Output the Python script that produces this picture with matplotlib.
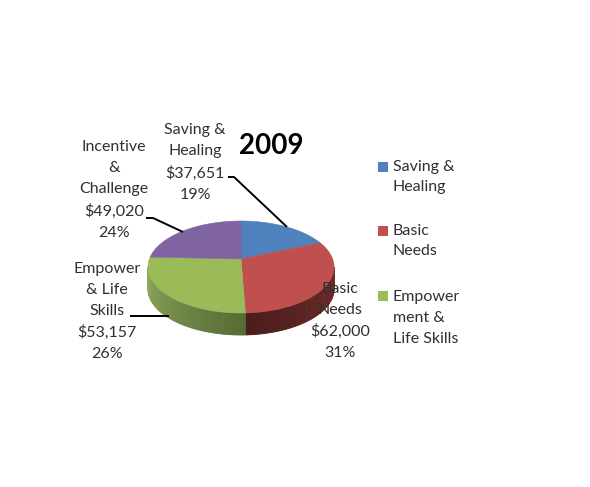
import numpy as np
import matplotlib
matplotlib.use("Agg")
import matplotlib.pyplot as plt
from matplotlib.colors import to_rgb

title = "2009"
categories = ["Saving &\nHealing", "Basic\nNeeds", "Empower\n& Life\nSkills", "Incentive\n&\nChallenge"]
legend_labels = ["Saving &\nHealing", "Basic\nNeeds", "Empower\nment &\nLife Skills"]
values = [37651, 62000, 53157, 49020]
percents = ["19%", "31%", "26%", "24%"]
colors = ["#4F81BD", "#C0504D", "#9BBB59", "#8064A2"]
side_from = {1: "#702C2A", 2: "#8FAA5E"}
side_to = {1: "#4A1D1B", 2: "#566B35"}

plt.rcParams["font.family"] = ["Lato", "DejaVu Sans"]
fig = plt.figure(figsize=(5.9, 4.87), dpi=100)
ax = fig.add_axes([0, 0, 1, 1])
ax.set_xlim(0, 590)
ax.set_ylim(487, 0)
ax.axis("off")

# perspective projection of a tilted circle
CX, CY, K, A, C, DEPTH = 241, 259, 91.6, 44.6, 0.174, 22


def project(theta):
    u, v = np.sin(theta), np.cos(theta)
    d = 1 + C * v
    return CX + K * u / d, CY - A * v / d


edges = np.concatenate([[0], np.cumsum(values)]) / sum(values) * 2 * np.pi
vis_lo, vis_hi = np.arccos(-C), 2 * np.pi - np.arccos(-C)

# side walls, shaded in strips
for i in side_from:
    lo, hi = max(edges[i], vis_lo), min(edges[i + 1], vis_hi)
    t = np.linspace(lo, hi, 60)
    c0, c1 = np.array(to_rgb(side_from[i])), np.array(to_rgb(side_to[i]))
    for j in range(len(t) - 1):
        x, y = project(t[j:j + 2])
        f = j / (len(t) - 2)
        c = c0 + (c1 - c0) * f
        if i == 2:
            c = c1 + (c0 - c1) * f
        ax.fill([x[0], x[1], x[1], x[0]], [y[0], y[1], y[1] + DEPTH, y[0] + DEPTH],
                color=c, lw=0.6, zorder=2)

# top face
for i, col in enumerate(colors):
    t = np.linspace(edges[i], edges[i + 1], 80)
    x, y = project(t)
    ax.fill(np.r_[CX, x], np.r_[CY, y], color=col, lw=0.4, zorder=3)

# leader lines
for px, py in [([228, 234, 287], [177, 177, 227]),
               ([146, 153, 183], [218, 218, 232]),
               ([130, 169], [316, 316])]:
    ax.plot(px, py, color="black", lw=1.4, zorder=4, solid_capstyle="butt")

# data labels
txt = dict(ha="center", va="center", fontsize=11.5, color="#303030", linespacing=1.63, zorder=5)
label_pos = [(195, 162.5), (340, 321), (107, 311.5), (114, 190)]
for cat, val, pct, (lx, ly) in zip(categories, values, percents, label_pos):
    ax.text(lx, ly, f"{cat}\n${val:,}\n{pct}", **txt)

ax.text(271, 146, title, ha="center", va="center", fontsize=20, fontweight="bold", color="black", zorder=5)

# legend
legend_y = [(167, 177), (231, 241), (296, 318)]
for lab, col, (sy, ty) in zip(legend_labels, colors, legend_y):
    ax.fill([378, 388, 388, 378], [sy - 5, sy - 5, sy + 5, sy + 5], color=col, lw=0)
    ax.text(393, ty, lab, ha="left", va="center", fontsize=11.5, color="#303030", linespacing=1.63)

fig.savefig("out.png", dpi=100, facecolor="white")
